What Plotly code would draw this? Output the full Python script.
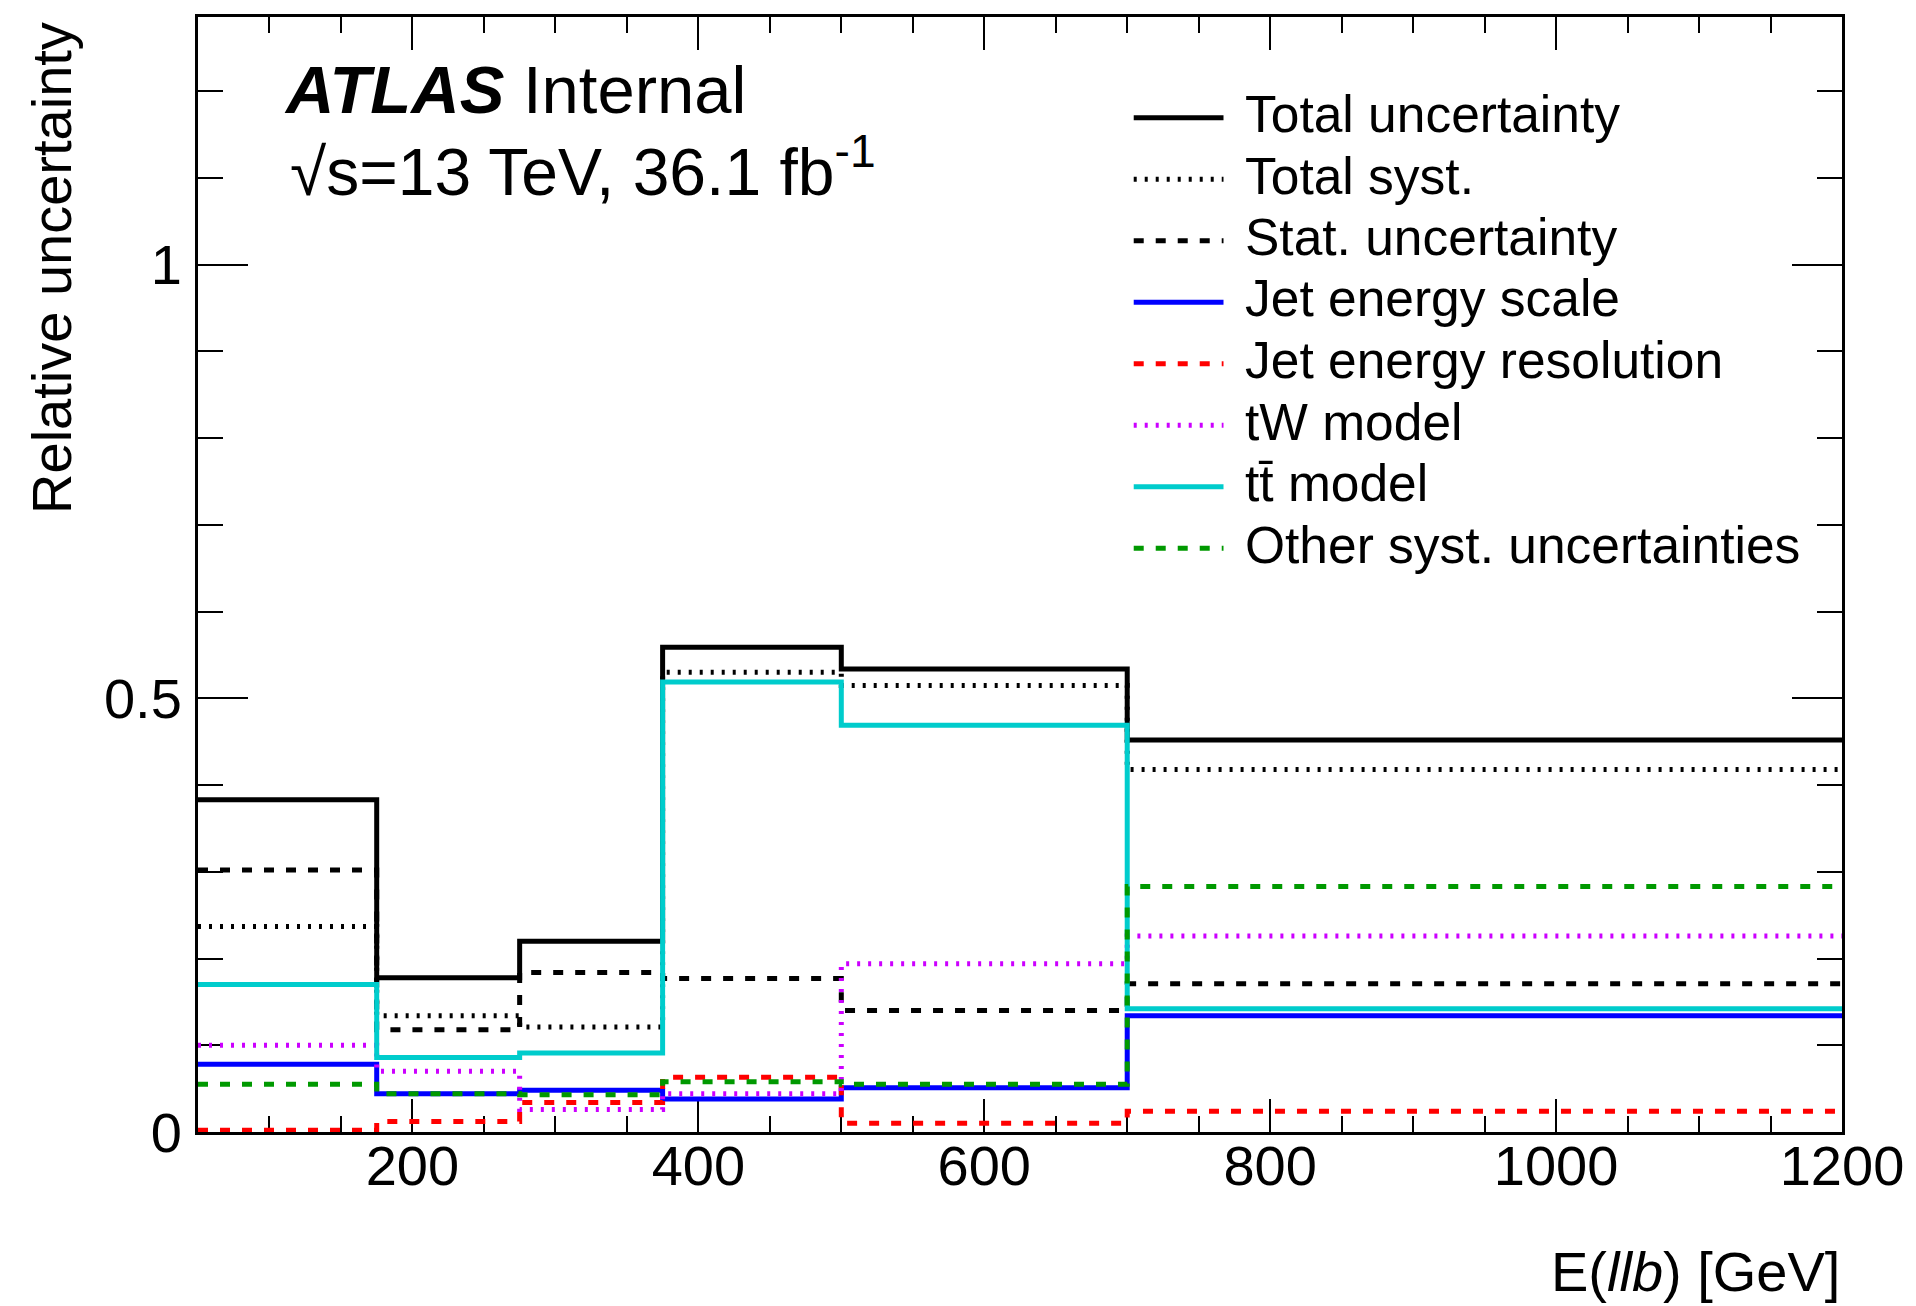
import plotly.graph_objects as go

# ---------------- data ----------------
bin_edges = [50, 175, 275, 375, 500, 700, 1200]

total_unc  = [0.383, 0.178, 0.220, 0.559, 0.534, 0.452]
total_syst = [0.237, 0.134, 0.121, 0.530, 0.515, 0.418]
stat_unc   = [0.302, 0.118, 0.184, 0.177, 0.140, 0.171]
jes_unc    = [0.078, 0.044, 0.048, 0.038, 0.051, 0.134]
jer_unc    = [0.002, 0.012, 0.034, 0.063, 0.010, 0.024]
tw_model   = [0.100, 0.070, 0.026, 0.044, 0.194, 0.226]
tt_model   = [0.170, 0.086, 0.091, 0.519, 0.469, 0.142]
other_syst = [0.055, 0.044, 0.043, 0.058, 0.055, 0.283]

legend_labels = ["Total uncertainty", "Total syst.", "Stat. uncertainty",
                 "Jet energy scale", "Jet energy resolution", "tW model",
                 "tt\u0304 model", "Other syst. uncertainties"]

x_ticks = [200, 400, 600, 800, 1000, 1200]
y_ticks = [0, 0.5, 1]

# ---------------- styles ----------------
FONT = "Liberation Sans, Arial, Helvetica, sans-serif"
DASH = "10px,12px"
DOT = "3px,8px"
LW = 5

series = [
    (total_unc,  legend_labels[0], "#000000", "solid"),
    (total_syst, legend_labels[1], "#000000", DOT),
    (stat_unc,   legend_labels[2], "#000000", DASH),
    (jes_unc,    legend_labels[3], "#0000FF", "solid"),
    (jer_unc,    legend_labels[4], "#FF0000", DASH),
    (tw_model,   legend_labels[5], "#CC00FF", DOT),
    (tt_model,   legend_labels[6], "#00CCCC", "solid"),
    (other_syst, legend_labels[7], "#009900", DASH),
]

W, H = 1916, 1306
ML, MR, MT, MB = 198, 70, 17, 174
PW, PH = W - ML - MR, H - MT - MB


def px_x(px):
    return (px - ML) / PW


def px_y(py):
    return (H - MB - py) / PH


fig = go.Figure()

for vals, name, color, dash in series:
    fig.add_trace(go.Scatter(
        x=bin_edges, y=list(vals) + [vals[-1]],
        mode="lines", line=dict(shape="hv", color=color, width=LW, dash=dash),
        name=name, showlegend=False, hoverinfo="skip",
    ))

# ---------------- manual ROOT-style legend ----------------
shapes = []
annotations = []
row0_line, row0_text, row0_step = 117.7, 114.0, 61.5
for i, (vals, name, color, dash) in enumerate(series):
    yl = px_y(row0_line + i * row0_step)
    shapes.append(dict(type="line", xref="paper", yref="paper",
                       x0=px_x(1136), x1=px_x(1226), y0=yl, y1=yl,
                       line=dict(color=color, width=LW, dash=dash)))
    annotations.append(dict(xref="paper", yref="paper", x=px_x(1246),
                            y=px_y(row0_text + i * row0_step),
                            xanchor="left", yanchor="middle", showarrow=False,
                            text=name, font=dict(family=FONT, size=51.5, color="black")))

# ATLAS label
annotations.append(dict(xref="paper", yref="paper", x=px_x(282), y=px_y(129),
                        xanchor="left", yanchor="bottom", showarrow=False,
                        text="<b><i>ATLAS</i></b> Internal",
                        font=dict(family=FONT, size=67, color="black")))
annotations.append(dict(xref="paper", yref="paper", x=px_x(288), y=px_y(211),
                        xanchor="left", yanchor="bottom", showarrow=False,
                        text="\u221As=13 TeV, 36.1 fb<sup>-1</sup>",
                        font=dict(family=FONT, size=66, color="black")))

# axis titles (ROOT style: aligned to the axis end)
annotations.append(dict(xref="paper", yref="paper", x=px_x(1846), y=px_y(1271),
                        xanchor="right", yanchor="middle", showarrow=False,
                        text="E(<i>llb</i>) [GeV]",
                        font=dict(family=FONT, size=56, color="black")))
annotations.append(dict(xref="paper", yref="paper", x=px_x(50.6), y=px_y(20),
                        xanchor="center", yanchor="top", showarrow=False,
                        textangle=-90, text="Relative uncertainty",
                        font=dict(family=FONT, size=56, color="black")))

axis_common = dict(showline=True, linecolor="black", linewidth=3, mirror="allticks",
                   ticks="inside", tickcolor="black", tickwidth=2,
                   showgrid=False, zeroline=False, layer="below traces",
                   tickfont=dict(family=FONT, size=56, color="black"))

fig.update_layout(
    width=W, height=H,
    margin=dict(l=ML, r=MR, t=MT, b=MB, pad=0),
    paper_bgcolor="white", plot_bgcolor="white",
    showlegend=False,
    shapes=shapes, annotations=annotations,
    xaxis=dict(range=[bin_edges[0], bin_edges[-1]], tickvals=x_ticks, ticklen=33,
               minor=dict(dtick=50, tick0=0, ticks="inside", ticklen=16,
                          tickwidth=2, tickcolor="black", showgrid=False),
               ticklabelstandoff=-17, **axis_common),
    yaxis=dict(range=[0, 1.2857], tickvals=y_ticks, ticktext=["0", "0.5", "1"], ticklen=50,
               minor=dict(dtick=0.1, tick0=0, ticks="inside", ticklen=25,
                          tickwidth=2, tickcolor="black", showgrid=False),
               ticklabelstandoff=2, **axis_common),
)

fig.write_html("out.html")
